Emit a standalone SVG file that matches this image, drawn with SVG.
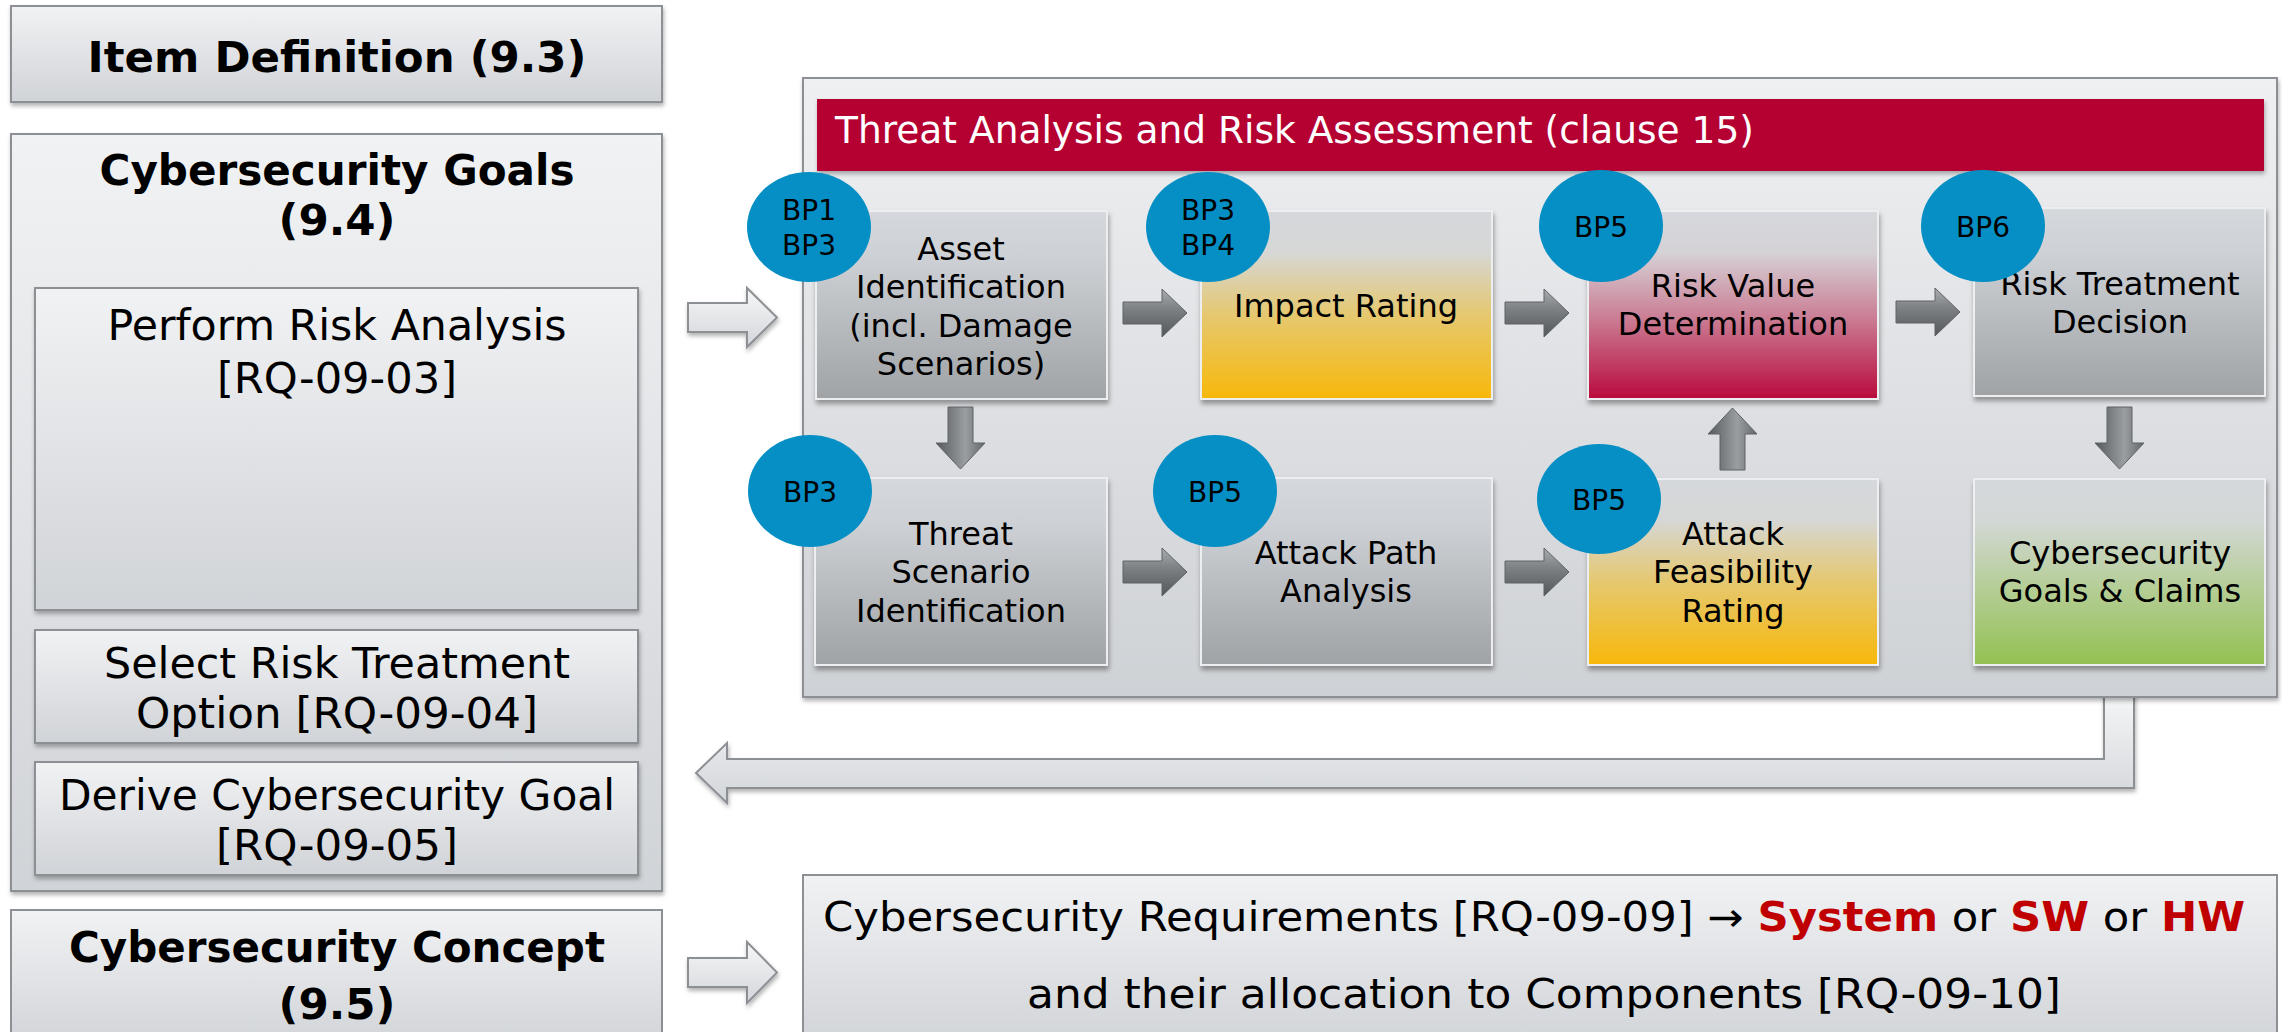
<svg xmlns="http://www.w3.org/2000/svg" width="2282" height="1032" viewBox="0 0 2282 1032">
<style>
.t{font-family:"DejaVu Sans",Verdana,sans-serif;fill:#000}
.b{font-weight:bold}
.lf{font-size:42px}
.in{font-size:32px}
.bp{font-size:28px}
.lbox{fill:url(#gLeft);stroke:#8c8f93;stroke-width:2}
.ibox{stroke:#eceef0;stroke-width:2}
.ell{fill:#058fc4}
.ga{stroke:#5f6366;stroke-width:1}
.hol{fill:url(#gHol);stroke:#8c8f93;stroke-width:2}
</style>
<defs>
<filter id="sh" x="-5%" y="-5%" width="110%" height="115%">
<feDropShadow dx="1" dy="4" stdDeviation="2.5" flood-color="#000" flood-opacity="0.35"/>
</filter>
<filter id="sh2" x="-10%" y="-10%" width="120%" height="130%">
<feDropShadow dx="1" dy="3" stdDeviation="2" flood-color="#000" flood-opacity="0.3"/>
</filter>
<linearGradient id="gLeft" x1="0" y1="0" x2="0" y2="1">
<stop offset="0" stop-color="#f1f2f4"/><stop offset="1" stop-color="#d0d3d7"/></linearGradient>
<linearGradient id="gTara" x1="0" y1="0" x2="0" y2="1">
<stop offset="0" stop-color="#eff0f2"/><stop offset="1" stop-color="#ced1d5"/></linearGradient>
<linearGradient id="gGray" x1="0" y1="0" x2="0" y2="1">
<stop offset="0" stop-color="#d5d8dc"/><stop offset="0.25" stop-color="#cdd0d4"/><stop offset="1" stop-color="#a0a3a6"/></linearGradient>
<linearGradient id="gYel" x1="0" y1="0" x2="0" y2="1">
<stop offset="0" stop-color="#d5d8dc"/><stop offset="0.22" stop-color="#d6d7d6"/><stop offset="0.55" stop-color="#e5c870"/><stop offset="1" stop-color="#f8b80a"/></linearGradient>
<linearGradient id="gRed" x1="0" y1="0" x2="0" y2="1">
<stop offset="0" stop-color="#d5d8dc"/><stop offset="0.22" stop-color="#d5d2d6"/><stop offset="0.55" stop-color="#cb8298"/><stop offset="1" stop-color="#b90a3c"/></linearGradient>
<linearGradient id="gGrn" x1="0" y1="0" x2="0" y2="1">
<stop offset="0" stop-color="#d5d8dc"/><stop offset="0.22" stop-color="#d3d8d6"/><stop offset="0.6" stop-color="#b4cd94"/><stop offset="1" stop-color="#92c152"/></linearGradient>
<linearGradient id="gHol" x1="0" y1="0" x2="0" y2="1">
<stop offset="0" stop-color="#f6f7f8"/><stop offset="1" stop-color="#d3d6da"/></linearGradient>
<linearGradient id="gAH" x1="0" y1="0" x2="0" y2="1">
<stop offset="0" stop-color="#a9adb0"/><stop offset="0.4" stop-color="#7e8285"/><stop offset="1" stop-color="#53575a"/></linearGradient>
<linearGradient id="gAV" x1="0" y1="0" x2="1" y2="0">
<stop offset="0" stop-color="#565a5d"/><stop offset="0.6" stop-color="#9a9ea1"/><stop offset="1" stop-color="#63676a"/></linearGradient>
<path id="arH" d="M0,13 H39 V0 L64,24 L39,48 V35 H0 Z"/>
<path id="arV" d="M12,0 H37 V36 H49 L24.5,62 L0,36 H12 Z"/>
</defs>

<rect width="2282" height="1032" fill="#ffffff"/>

<!-- Left column -->
<g id="item-definition">
<rect class="lbox" x="11" y="6" width="651" height="96" filter="url(#sh2)"/>
<text class="t b lf" x="337" y="72" text-anchor="middle" textLength="499" lengthAdjust="spacingAndGlyphs">Item Definition (9.3)</text>
</g>

<g id="cybersecurity-goals">
<rect class="lbox" x="11" y="134" width="651" height="757" filter="url(#sh2)"/>
<text class="t b lf" x="337" y="185" text-anchor="middle" textLength="475" lengthAdjust="spacingAndGlyphs">Cybersecurity Goals</text>
<text class="t b lf" x="337" y="235" text-anchor="middle" textLength="117" lengthAdjust="spacingAndGlyphs">(9.4)</text>
</g>

<g id="perform-risk-analysis">
<rect class="lbox" x="35" y="288" width="603" height="322" filter="url(#sh2)"/>
<text class="t lf" x="337" y="340" text-anchor="middle" textLength="459" lengthAdjust="spacingAndGlyphs">Perform Risk Analysis</text>
<text class="t lf" x="337" y="393" text-anchor="middle" textLength="240" lengthAdjust="spacingAndGlyphs">[RQ-09-03]</text>
</g>

<g id="select-risk-treatment">
<rect class="lbox" x="35" y="630" width="603" height="113" filter="url(#sh2)"/>
<text class="t lf" x="337" y="678" text-anchor="middle" textLength="466" lengthAdjust="spacingAndGlyphs">Select Risk Treatment</text>
<text class="t lf" x="337" y="728" text-anchor="middle" textLength="402" lengthAdjust="spacingAndGlyphs">Option [RQ-09-04]</text>
</g>

<g id="derive-goal">
<rect class="lbox" x="35" y="762" width="603" height="113" filter="url(#sh2)"/>
<text class="t lf" x="337" y="810" text-anchor="middle" textLength="556" lengthAdjust="spacingAndGlyphs">Derive Cybersecurity Goal</text>
<text class="t lf" x="337" y="860" text-anchor="middle" textLength="242" lengthAdjust="spacingAndGlyphs">[RQ-09-05]</text>
</g>

<g id="cybersecurity-concept">
<rect class="lbox" x="11" y="910" width="651" height="140"/>
<text class="t b lf" x="337" y="962" text-anchor="middle" textLength="536" lengthAdjust="spacingAndGlyphs">Cybersecurity Concept</text>
<text class="t b lf" x="337" y="1019" text-anchor="middle" textLength="117" lengthAdjust="spacingAndGlyphs">(9.5)</text>
</g>

<!-- Connectors -->
<g id="connectors">
<path class="hol" d="M688,303 H747 V288 L777,317.5 L747,347 V332 H688 Z" filter="url(#sh2)"/>
<path class="hol" d="M688,958 H747 V942 L777,972.5 L747,1003 V987 H688 Z" filter="url(#sh2)"/>
<path class="hol" d="M696,773 L727,743 V759 H2104 V690 H2134 V788 H727 V803 Z" filter="url(#sh2)"/>
</g>

<!-- TARA container -->
<g id="tara">
<rect x="803" y="78" width="1474" height="619" fill="url(#gTara)" stroke="#8c8f93" stroke-width="2" filter="url(#sh2)"/>
<rect x="817" y="99" width="1447" height="72" fill="#b50031" filter="url(#sh2)"/>
<text class="t" x="835" y="143" font-size="37" style="fill:#ffffff" textLength="919" lengthAdjust="spacingAndGlyphs">Threat Analysis and Risk Assessment (clause 15)</text>
</g>

<g id="asset-identification">
<rect class="ibox" x="816" y="211" width="291" height="188" fill="url(#gGray)" filter="url(#sh)"/>
<text class="t in" text-anchor="middle"><tspan x="961" y="260">Asset</tspan><tspan x="961" y="298">Identification</tspan><tspan x="961" y="337">(incl. Damage</tspan><tspan x="961" y="375">Scenarios)</tspan></text>
</g>
<g id="impact-rating">
<rect class="ibox" x="1201" y="211" width="291" height="188" fill="url(#gYel)" filter="url(#sh)"/>
<text class="t in" x="1346" y="317" text-anchor="middle">Impact Rating</text>
</g>
<g id="risk-value">
<rect class="ibox" x="1588" y="211" width="290" height="188" fill="url(#gRed)" filter="url(#sh)"/>
<text class="t in" text-anchor="middle"><tspan x="1733" y="297">Risk Value</tspan><tspan x="1733" y="335">Determination</tspan></text>
</g>
<g id="risk-treatment">
<rect class="ibox" x="1974" y="208" width="291" height="188" fill="url(#gGray)" filter="url(#sh)"/>
<text class="t in" text-anchor="middle"><tspan x="2120" y="295">Risk Treatment</tspan><tspan x="2120" y="333">Decision</tspan></text>
</g>
<g id="threat-scenario">
<rect class="ibox" x="815" y="478" width="292" height="187" fill="url(#gGray)" filter="url(#sh)"/>
<text class="t in" text-anchor="middle"><tspan x="961" y="545">Threat</tspan><tspan x="961" y="583">Scenario</tspan><tspan x="961" y="622">Identification</tspan></text>
</g>
<g id="attack-path">
<rect class="ibox" x="1201" y="478" width="291" height="187" fill="url(#gGray)" filter="url(#sh)"/>
<text class="t in" text-anchor="middle"><tspan x="1346" y="564">Attack Path</tspan><tspan x="1346" y="602">Analysis</tspan></text>
</g>
<g id="attack-feasibility">
<rect class="ibox" x="1588" y="479" width="290" height="186" fill="url(#gYel)" filter="url(#sh)"/>
<text class="t in" text-anchor="middle"><tspan x="1733" y="545">Attack</tspan><tspan x="1733" y="583">Feasibility</tspan><tspan x="1733" y="622">Rating</tspan></text>
</g>
<g id="goals-claims">
<rect class="ibox" x="1974" y="479" width="291" height="186" fill="url(#gGrn)" filter="url(#sh)"/>
<text class="t in" text-anchor="middle"><tspan x="2120" y="564">Cybersecurity</tspan><tspan x="2120" y="602">Goals &amp; Claims</tspan></text>
</g>

<g id="tara-connectors">
<use href="#arH" class="ga" fill="url(#gAH)" transform="translate(1123,289)"/>
<use href="#arH" class="ga" fill="url(#gAH)" transform="translate(1505,289)"/>
<use href="#arH" class="ga" fill="url(#gAH)" transform="translate(1896,288)"/>
<use href="#arH" class="ga" fill="url(#gAH)" transform="translate(1123,548)"/>
<use href="#arH" class="ga" fill="url(#gAH)" transform="translate(1505,548)"/>
<use href="#arV" class="ga" fill="url(#gAV)" transform="translate(936,407)"/>
<use href="#arV" class="ga" fill="url(#gAV)" transform="translate(2095,407)"/>
<use href="#arV" class="ga" fill="url(#gAV)" transform="translate(1708,470) scale(1,-1)"/>
</g>

<!-- BP markers -->
<g id="bp-asset"><ellipse class="ell" cx="809" cy="227" rx="62" ry="55"/><text class="t bp" text-anchor="middle"><tspan x="809" y="220">BP1</tspan><tspan x="809" y="255">BP3</tspan></text></g>
<g id="bp-impact"><ellipse class="ell" cx="1208" cy="227" rx="62" ry="55"/><text class="t bp" text-anchor="middle"><tspan x="1208" y="220">BP3</tspan><tspan x="1208" y="255">BP4</tspan></text></g>
<g id="bp-riskvalue"><ellipse class="ell" cx="1601" cy="226" rx="62" ry="56"/><text class="t bp" x="1601" y="237" text-anchor="middle">BP5</text></g>
<g id="bp-treatment"><ellipse class="ell" cx="1983" cy="226" rx="62" ry="56"/><text class="t bp" x="1983" y="237" text-anchor="middle">BP6</text></g>
<g id="bp-threat"><ellipse class="ell" cx="810" cy="491" rx="62" ry="56"/><text class="t bp" x="810" y="502" text-anchor="middle">BP3</text></g>
<g id="bp-attackpath"><ellipse class="ell" cx="1215" cy="491" rx="62" ry="56"/><text class="t bp" x="1215" y="502" text-anchor="middle">BP5</text></g>
<g id="bp-feasibility"><ellipse class="ell" cx="1599" cy="499" rx="62" ry="55"/><text class="t bp" x="1599" y="510" text-anchor="middle">BP5</text></g>

<!-- Requirements box -->
<g id="cybersecurity-requirements">
<rect x="803" y="875" width="1474" height="175" fill="url(#gLeft)" stroke="#8c8f93" stroke-width="2"/>
<text class="t" x="823" y="931" font-size="40" textLength="1422" lengthAdjust="spacingAndGlyphs">Cybersecurity Requirements [RQ-09-09] → <tspan class="b" style="fill:#c00000">System</tspan> or <tspan class="b" style="fill:#c00000">SW</tspan> or <tspan class="b" style="fill:#c00000">HW</tspan></text>
<text class="t" x="1027" y="1008" font-size="40" textLength="1034" lengthAdjust="spacingAndGlyphs">and their allocation to Components [RQ-09-10]</text>
</g>
</svg>
